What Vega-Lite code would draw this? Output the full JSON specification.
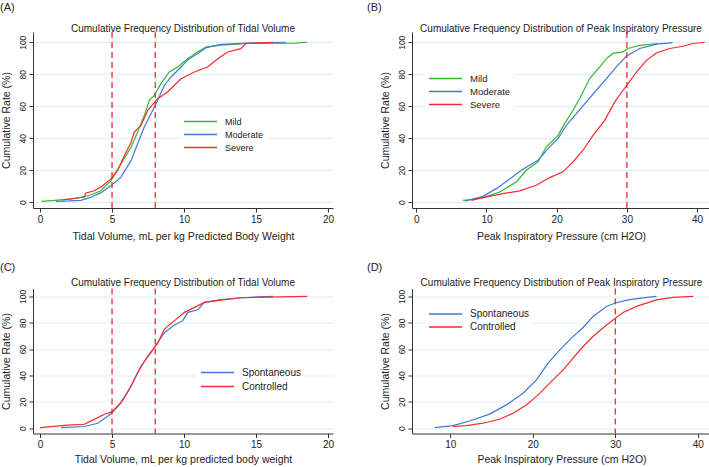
{
  "$schema": "https://vega.github.io/schema/vega-lite/v6.json",
  "padding": {"left": 0, "top": 2, "right": 0, "bottom": 0},
  "background": "white",
  "config": {
    "font": "Liberation Sans",
    "view": {"stroke": null},
    "axis": {"domainColor": "#333333", "tickColor": "#333333", "tickSize": 4, "labelFontSize": 10, "labelColor": "#222222", "titleFontSize": 10.5, "titleFontWeight": "normal", "titleColor": "#222222", "grid": false, "labelPadding": 2, "labelFont": "Liberation Sans", "titleFont": "Liberation Sans"},
    "axisY": {"grid": true, "gridColor": "#e2eff2", "gridWidth": 1, "labelAngle": -90, "labelFontSize": 8.5, "titlePadding": 7},
    "axisX": {"titlePadding": 7},
    "title": {"fontSize": 10, "fontWeight": "normal", "color": "#222222", "font": "Liberation Sans", "offset": -3},
    "legend": {"orient": "none", "title": null, "symbolType": "stroke", "symbolSize": 1089, "symbolStrokeWidth": 1.3, "clipHeight": 13, "labelFontSize": 9.5, "labelColor": "#222222", "labelOffset": 7, "fillColor": "white", "padding": 3, "rowPadding": 0}
  },
  "datasets": {
    "A": [
      {"x": 0.1, "y": 0.6, "g": "Mild"}, {"x": 1.0, "y": 1.2, "g": "Mild"}, {"x": 2.0, "y": 1.9, "g": "Mild"}, {"x": 2.85, "y": 3.1, "g": "Mild"}, {"x": 3.5, "y": 4.5, "g": "Mild"}, {"x": 4.2, "y": 7.0, "g": "Mild"}, {"x": 4.93, "y": 13.5, "g": "Mild"}, {"x": 5.62, "y": 24.0, "g": "Mild"}, {"x": 6.32, "y": 34.4, "g": "Mild"}, {"x": 6.78, "y": 43.8, "g": "Mild"}, {"x": 7.24, "y": 54.3, "g": "Mild"}, {"x": 7.59, "y": 63.7, "g": "Mild"}, {"x": 7.94, "y": 66.8, "g": "Mild"}, {"x": 8.4, "y": 74.1, "g": "Mild"}, {"x": 8.98, "y": 81.4, "g": "Mild"}, {"x": 9.56, "y": 84.5, "g": "Mild"}, {"x": 10.26, "y": 89.7, "g": "Mild"}, {"x": 10.95, "y": 94.0, "g": "Mild"}, {"x": 11.53, "y": 97.0, "g": "Mild"}, {"x": 12.57, "y": 98.2, "g": "Mild"}, {"x": 14.42, "y": 99.2, "g": "Mild"}, {"x": 17.7, "y": 99.4, "g": "Mild"}, {"x": 18.56, "y": 100, "g": "Mild"},
      {"x": 1.1, "y": 0.6, "g": "Moderate"}, {"x": 2.0, "y": 0.8, "g": "Moderate"}, {"x": 2.85, "y": 1.2, "g": "Moderate"}, {"x": 3.5, "y": 3.0, "g": "Moderate"}, {"x": 4.24, "y": 6.0, "g": "Moderate"}, {"x": 4.93, "y": 10.4, "g": "Moderate"}, {"x": 5.62, "y": 15.7, "g": "Moderate"}, {"x": 6.32, "y": 26.0, "g": "Moderate"}, {"x": 6.78, "y": 36.5, "g": "Moderate"}, {"x": 7.24, "y": 47.0, "g": "Moderate"}, {"x": 7.71, "y": 55.3, "g": "Moderate"}, {"x": 8.17, "y": 63.7, "g": "Moderate"}, {"x": 8.63, "y": 73.0, "g": "Moderate"}, {"x": 9.1, "y": 78.3, "g": "Moderate"}, {"x": 9.79, "y": 84.5, "g": "Moderate"}, {"x": 10.26, "y": 89.0, "g": "Moderate"}, {"x": 10.95, "y": 93.0, "g": "Moderate"}, {"x": 11.53, "y": 96.6, "g": "Moderate"}, {"x": 12.57, "y": 98.7, "g": "Moderate"}, {"x": 14.42, "y": 99.5, "g": "Moderate"}, {"x": 17.1, "y": 100, "g": "Moderate"},
      {"x": 1.6, "y": 1.5, "g": "Severe"}, {"x": 2.5, "y": 2.5, "g": "Severe"}, {"x": 3.1, "y": 3.3, "g": "Severe"}, {"x": 3.15, "y": 5.6, "g": "Severe"}, {"x": 3.77, "y": 7.2, "g": "Severe"}, {"x": 4.3, "y": 10.0, "g": "Severe"}, {"x": 4.93, "y": 14.6, "g": "Severe"}, {"x": 5.4, "y": 20.0, "g": "Severe"}, {"x": 5.86, "y": 29.2, "g": "Severe"}, {"x": 6.3, "y": 37.0, "g": "Severe"}, {"x": 6.55, "y": 43.8, "g": "Severe"}, {"x": 7.01, "y": 48.0, "g": "Severe"}, {"x": 7.48, "y": 57.4, "g": "Severe"}, {"x": 8.17, "y": 64.7, "g": "Severe"}, {"x": 8.86, "y": 68.9, "g": "Severe"}, {"x": 9.79, "y": 77.2, "g": "Severe"}, {"x": 10.72, "y": 81.4, "g": "Severe"}, {"x": 11.64, "y": 84.5, "g": "Severe"}, {"x": 12.34, "y": 89.7, "g": "Severe"}, {"x": 13.03, "y": 93.9, "g": "Severe"}, {"x": 13.95, "y": 96.0, "g": "Severe"}, {"x": 14.3, "y": 99.2, "g": "Severe"}, {"x": 15.34, "y": 99.6, "g": "Severe"}, {"x": 16.2, "y": 100, "g": "Severe"}
    ],
    "B": [
      {"x": 6.65, "y": 1.2, "g": "Mild"}, {"x": 8.0, "y": 1.8, "g": "Mild"}, {"x": 9.5, "y": 2.9, "g": "Mild"}, {"x": 11.88, "y": 6.4, "g": "Mild"}, {"x": 14.25, "y": 12.7, "g": "Mild"}, {"x": 15.68, "y": 20.0, "g": "Mild"}, {"x": 17.34, "y": 25.2, "g": "Mild"}, {"x": 18.53, "y": 34.6, "g": "Mild"}, {"x": 20.19, "y": 41.8, "g": "Mild"}, {"x": 21.14, "y": 49.1, "g": "Mild"}, {"x": 22.33, "y": 57.5, "g": "Mild"}, {"x": 23.28, "y": 64.8, "g": "Mild"}, {"x": 24.7, "y": 77.3, "g": "Mild"}, {"x": 26.13, "y": 84.6, "g": "Mild"}, {"x": 27.08, "y": 89.8, "g": "Mild"}, {"x": 28.03, "y": 93.0, "g": "Mild"}, {"x": 29.45, "y": 94.0, "g": "Mild"}, {"x": 30.17, "y": 96.1, "g": "Mild"}, {"x": 31.83, "y": 98.1, "g": "Mild"}, {"x": 34.4, "y": 99.2, "g": "Mild"},
      {"x": 6.89, "y": 0.6, "g": "Moderate"}, {"x": 9.5, "y": 3.7, "g": "Moderate"}, {"x": 11.4, "y": 8.5, "g": "Moderate"}, {"x": 13.06, "y": 13.8, "g": "Moderate"}, {"x": 14.96, "y": 20.0, "g": "Moderate"}, {"x": 17.34, "y": 26.2, "g": "Moderate"}, {"x": 19.0, "y": 34.6, "g": "Moderate"}, {"x": 20.19, "y": 39.8, "g": "Moderate"}, {"x": 21.38, "y": 48.1, "g": "Moderate"}, {"x": 22.8, "y": 55.4, "g": "Moderate"}, {"x": 24.23, "y": 62.7, "g": "Moderate"}, {"x": 25.65, "y": 70.0, "g": "Moderate"}, {"x": 27.08, "y": 77.3, "g": "Moderate"}, {"x": 28.5, "y": 84.6, "g": "Moderate"}, {"x": 29.93, "y": 91.2, "g": "Moderate"}, {"x": 31.83, "y": 96.1, "g": "Moderate"}, {"x": 34.2, "y": 98.8, "g": "Moderate"}, {"x": 36.5, "y": 99.8, "g": "Moderate"},
      {"x": 7.84, "y": 1.2, "g": "Severe"}, {"x": 9.5, "y": 2.9, "g": "Severe"}, {"x": 12.35, "y": 5.4, "g": "Severe"}, {"x": 14.73, "y": 7.1, "g": "Severe"}, {"x": 17.1, "y": 10.6, "g": "Severe"}, {"x": 19.0, "y": 15.4, "g": "Severe"}, {"x": 20.9, "y": 19.0, "g": "Severe"}, {"x": 22.33, "y": 25.2, "g": "Severe"}, {"x": 23.75, "y": 32.5, "g": "Severe"}, {"x": 25.18, "y": 41.8, "g": "Severe"}, {"x": 26.84, "y": 51.2, "g": "Severe"}, {"x": 28.27, "y": 62.7, "g": "Severe"}, {"x": 29.45, "y": 70.0, "g": "Severe"}, {"x": 30.17, "y": 74.1, "g": "Severe"}, {"x": 31.36, "y": 81.4, "g": "Severe"}, {"x": 32.79, "y": 88.7, "g": "Severe"}, {"x": 34.2, "y": 93.3, "g": "Severe"}, {"x": 36.1, "y": 96.1, "g": "Severe"}, {"x": 38.0, "y": 97.5, "g": "Severe"}, {"x": 39.4, "y": 99.2, "g": "Severe"}, {"x": 41.1, "y": 100, "g": "Severe"}
    ],
    "C": [
      {"x": 1.46, "y": 0.5, "g": "Spontaneous"}, {"x": 3.08, "y": 1.3, "g": "Spontaneous"}, {"x": 4.0, "y": 3.8, "g": "Spontaneous"}, {"x": 4.94, "y": 10.9, "g": "Spontaneous"}, {"x": 5.63, "y": 19.5, "g": "Spontaneous"}, {"x": 6.33, "y": 32.2, "g": "Spontaneous"}, {"x": 7.02, "y": 47.4, "g": "Spontaneous"}, {"x": 7.72, "y": 57.5, "g": "Spontaneous"}, {"x": 8.18, "y": 65.1, "g": "Spontaneous"}, {"x": 8.64, "y": 72.7, "g": "Spontaneous"}, {"x": 9.34, "y": 78.3, "g": "Spontaneous"}, {"x": 9.92, "y": 81.6, "g": "Spontaneous"}, {"x": 10.27, "y": 87.9, "g": "Spontaneous"}, {"x": 10.96, "y": 89.9, "g": "Spontaneous"}, {"x": 11.42, "y": 95.5, "g": "Spontaneous"}, {"x": 12.58, "y": 97.5, "g": "Spontaneous"}, {"x": 13.97, "y": 99.0, "g": "Spontaneous"}, {"x": 16.18, "y": 100, "g": "Spontaneous"},
      {"x": 0.0, "y": 0.5, "g": "Controlled"}, {"x": 1.92, "y": 2.3, "g": "Controlled"}, {"x": 3.08, "y": 3.0, "g": "Controlled"}, {"x": 3.55, "y": 5.6, "g": "Controlled"}, {"x": 4.47, "y": 10.6, "g": "Controlled"}, {"x": 5.0, "y": 12.4, "g": "Controlled"}, {"x": 5.63, "y": 19.5, "g": "Controlled"}, {"x": 6.21, "y": 29.6, "g": "Controlled"}, {"x": 6.79, "y": 42.3, "g": "Controlled"}, {"x": 7.49, "y": 55.0, "g": "Controlled"}, {"x": 8.18, "y": 64.6, "g": "Controlled"}, {"x": 8.64, "y": 75.2, "g": "Controlled"}, {"x": 9.34, "y": 81.6, "g": "Controlled"}, {"x": 10.03, "y": 87.9, "g": "Controlled"}, {"x": 10.73, "y": 91.7, "g": "Controlled"}, {"x": 11.42, "y": 95.5, "g": "Controlled"}, {"x": 12.58, "y": 97.2, "g": "Controlled"}, {"x": 13.97, "y": 99.0, "g": "Controlled"}, {"x": 18.56, "y": 100, "g": "Controlled"}
    ],
    "D": [
      {"x": 8.1, "y": 0.5, "g": "Spontaneous"}, {"x": 10.33, "y": 2.0, "g": "Spontaneous"}, {"x": 12.35, "y": 5.5, "g": "Spontaneous"}, {"x": 14.78, "y": 10.7, "g": "Spontaneous"}, {"x": 16.8, "y": 17.7, "g": "Spontaneous"}, {"x": 18.82, "y": 26.6, "g": "Spontaneous"}, {"x": 20.44, "y": 36.7, "g": "Spontaneous"}, {"x": 21.85, "y": 49.4, "g": "Spontaneous"}, {"x": 23.27, "y": 59.5, "g": "Spontaneous"}, {"x": 24.68, "y": 68.4, "g": "Spontaneous"}, {"x": 26.1, "y": 76.4, "g": "Spontaneous"}, {"x": 27.3, "y": 84.8, "g": "Spontaneous"}, {"x": 28.93, "y": 92.4, "g": "Spontaneous"}, {"x": 30.0, "y": 95.0, "g": "Spontaneous"}, {"x": 31.75, "y": 97.6, "g": "Spontaneous"}, {"x": 33.36, "y": 98.9, "g": "Spontaneous"}, {"x": 34.98, "y": 100, "g": "Spontaneous"},
      {"x": 10.33, "y": 1.3, "g": "Controlled"}, {"x": 11.95, "y": 2.0, "g": "Controlled"}, {"x": 13.97, "y": 3.8, "g": "Controlled"}, {"x": 15.99, "y": 6.8, "g": "Controlled"}, {"x": 17.6, "y": 11.4, "g": "Controlled"}, {"x": 19.22, "y": 17.7, "g": "Controlled"}, {"x": 20.64, "y": 25.3, "g": "Controlled"}, {"x": 22.05, "y": 34.2, "g": "Controlled"}, {"x": 23.67, "y": 44.3, "g": "Controlled"}, {"x": 24.88, "y": 53.2, "g": "Controlled"}, {"x": 26.1, "y": 62.0, "g": "Controlled"}, {"x": 27.3, "y": 69.6, "g": "Controlled"}, {"x": 28.72, "y": 77.2, "g": "Controlled"}, {"x": 30.0, "y": 83.5, "g": "Controlled"}, {"x": 30.95, "y": 87.8, "g": "Controlled"}, {"x": 32.56, "y": 92.4, "g": "Controlled"}, {"x": 34.98, "y": 97.4, "g": "Controlled"}, {"x": 37.0, "y": 99.2, "g": "Controlled"}, {"x": 39.45, "y": 100, "g": "Controlled"}
    ],
    "refTV": [{"v": 5}, {"v": 8}],
    "refPIP": [{"v": 30}]
  },
  "resolve": {"scale": {"color": "independent"}, "legend": {"color": "independent"}},
  "spacing": 19.5,
  "vconcat": [
    {
      "spacing": 33,
      "resolve": {"scale": {"color": "independent"}, "legend": {"color": "independent"}},
      "hconcat": [
        {
          "title": {"text": "(A)", "anchor": "start", "frame": "bounds", "fontSize": 11, "dx": -1, "offset": 11},
          "resolve": {"scale": {"color": "independent"}, "legend": {"color": "independent"}},
          "vconcat": [{
            "title": {"text": "Cumulative Frequency Distribution of Tidal Volume"},
            "width": 300, "height": 176,
            "layer": [
              {"data": {"name": "A"}, "mark": {"type": "line", "strokeWidth": 1.2},
               "encoding": {
                 "x": {"field": "x", "type": "quantitative", "scale": {"domain": [-0.49, 20.35], "nice": false, "zero": false}, "axis": {"values": [0, 5, 10, 15, 20], "title": "Tidal Volume, mL per kg Predicted Body Weight"}},
                 "y": {"field": "y", "type": "quantitative", "scale": {"domain": [-3.6, 106.4], "nice": false}, "axis": {"values": [0, 20, 40, 60, 80, 100], "title": "Cumulative Rate (%)"}},
                 "color": {"field": "g", "type": "nominal", "scale": {"domain": ["Mild", "Moderate", "Severe"], "range": ["#33b733", "#4179d0", "#f42c2c"]}, "legend": {"legendX": 147, "legendY": 80, "labelFontSize": 9}}
               }},
              {"data": {"name": "refTV"}, "mark": {"type": "rule", "color": "#ec2a30", "strokeDash": [6, 4], "strokeWidth": 1.3},
               "encoding": {"x": {"field": "v", "type": "quantitative"}}}
            ]
          }]
        },
        {
          "title": {"text": "(B)", "anchor": "start", "frame": "bounds", "fontSize": 11, "dx": -13, "offset": 11},
          "resolve": {"scale": {"color": "independent"}, "legend": {"color": "independent"}},
          "vconcat": [{
            "title": {"text": "Cumulative Frequency Distribution of Peak Inspiratory Pressure"},
            "width": 298, "height": 176,
            "layer": [
              {"data": {"name": "B"}, "mark": {"type": "line", "strokeWidth": 1.2},
               "encoding": {
                 "x": {"field": "x", "type": "quantitative", "scale": {"domain": [-0.61, 41.84], "nice": false, "zero": false}, "axis": {"values": [0, 10, 20, 30, 40], "title": "Peak Inspiratory Pressure (cm H2O)"}},
                 "y": {"field": "y", "type": "quantitative", "scale": {"domain": [-3.6, 106.4], "nice": false}, "axis": {"values": [0, 20, 40, 60, 80, 100], "title": "Cumulative Rate (%)"}},
                 "color": {"field": "g", "type": "nominal", "scale": {"domain": ["Mild", "Moderate", "Severe"], "range": ["#33b733", "#4179d0", "#f42c2c"]}, "legend": {"legendX": 13, "legendY": 37, "labelFontSize": 9.5}}
               }},
              {"data": {"name": "refPIP"}, "mark": {"type": "rule", "color": "#ec2a30", "strokeDash": [6, 4], "strokeWidth": 1.3},
               "encoding": {"x": {"field": "v", "type": "quantitative"}}}
            ]
          }]
        }
      ]
    },
    {
      "spacing": 33,
      "resolve": {"scale": {"color": "independent"}, "legend": {"color": "independent"}},
      "hconcat": [
        {
          "title": {"text": "(C)", "anchor": "start", "frame": "bounds", "fontSize": 11, "dx": -1, "offset": 5},
          "resolve": {"scale": {"color": "independent"}, "legend": {"color": "independent"}},
          "vconcat": [{
            "title": {"text": "Cumulative Frequency Distribution of Tidal Volume", "offset": 0},
            "width": 300, "height": 145,
            "layer": [
              {"data": {"name": "C"}, "mark": {"type": "line", "strokeWidth": 1.2},
               "encoding": {
                 "x": {"field": "x", "type": "quantitative", "scale": {"domain": [-0.49, 20.35], "nice": false, "zero": false}, "axis": {"values": [0, 5, 10, 15, 20], "title": "Tidal Volume, mL per kg predicted body weight", "titlePadding": 5}},
                 "y": {"field": "y", "type": "quantitative", "scale": {"domain": [-4, 106], "nice": false}, "axis": {"values": [0, 20, 40, 60, 80, 100], "title": "Cumulative Rate (%)"}},
                 "color": {"field": "g", "type": "nominal", "scale": {"domain": ["Spontaneous", "Controlled"], "range": ["#4179d0", "#f42c2c"]}, "legend": {"legendX": 164, "legendY": 74, "labelFontSize": 10, "clipHeight": 14}}
               }},
              {"data": {"name": "refTV"}, "mark": {"type": "rule", "color": "#ec2a30", "strokeDash": [6, 4], "strokeWidth": 1.3},
               "encoding": {"x": {"field": "v", "type": "quantitative"}}}
            ]
          }]
        },
        {
          "title": {"text": "(D)", "anchor": "start", "frame": "bounds", "fontSize": 11, "dx": -13, "offset": 5},
          "resolve": {"scale": {"color": "independent"}, "legend": {"color": "independent"}},
          "vconcat": [{
            "title": {"text": "Cumulative Frequency Distribution of Peak Inspiratory Pressure", "offset": 0},
            "width": 299, "height": 145,
            "layer": [
              {"data": {"name": "D"}, "mark": {"type": "line", "strokeWidth": 1.2},
               "encoding": {
                 "x": {"field": "x", "type": "quantitative", "scale": {"domain": [5.36, 41.6], "nice": false, "zero": false}, "axis": {"values": [10, 20, 30, 40], "title": "Peak Inspiratory Pressure (cm H2O)", "titlePadding": 5}},
                 "y": {"field": "y", "type": "quantitative", "scale": {"domain": [-4, 106], "nice": false}, "axis": {"values": [0, 20, 40, 60, 80, 100], "title": "Cumulative Rate (%)"}},
                 "color": {"field": "g", "type": "nominal", "scale": {"domain": ["Spontaneous", "Controlled"], "range": ["#4179d0", "#f42c2c"]}, "legend": {"legendX": 13, "legendY": 16, "labelFontSize": 10}}
               }},
              {"data": {"name": "refPIP"}, "mark": {"type": "rule", "color": "#ec2a30", "strokeDash": [6, 4], "strokeWidth": 1.3},
               "encoding": {"x": {"field": "v", "type": "quantitative"}}}
            ]
          }]
        }
      ]
    }
  ]
}
